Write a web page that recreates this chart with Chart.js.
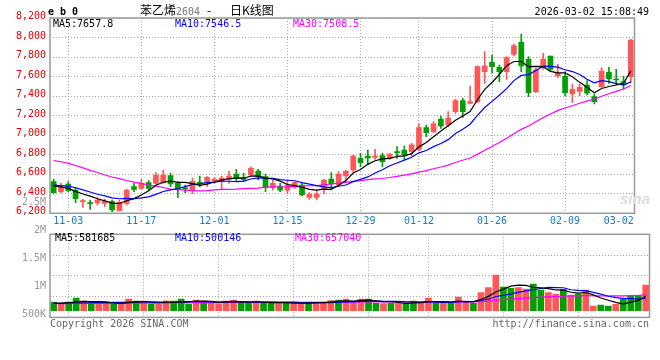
<!DOCTYPE html>
<html>
<head>
<meta charset="utf-8">
<script src="https://cdn.jsdelivr.net/npm/chart.js@4.4.1/dist/chart.umd.min.js"></script>
<style>
  body { margin: 0; background: #fff; }
  #wrap { position: relative; width: 660px; height: 360px; overflow: hidden; background: #fff;
          font-family: 'DejaVu Sans Mono', monospace; font-size: 10px; }
  canvas { position: absolute; left: 0; }
  #priceCanvas { top: 0; }
  #volCanvas { top: 190px; }
  .t { position: absolute; white-space: pre; line-height: 12px; }
  .cjk { font-family: 'Noto Sans CJK SC', sans-serif; font-size: 12px; line-height: 14px; }
</style>
</head>
<body>
<div id="wrap">
  <canvas id="priceCanvas" width="660" height="232"></canvas>
  <canvas id="volCanvas" width="660" height="140"></canvas>

  <div class="t" style="left:48px;top:6px;font-weight:bold;">e b 0</div>
  <div class="t cjk" style="left:140px;top:3px;">苯乙烯<span style="font-family:'DejaVu Sans Mono',monospace;font-size:10px;color:#777;">2604</span></div>
  <div class="t cjk" style="left:207px;top:3px;">-</div>
  <div class="t cjk" style="left:230px;top:3px;">日K线图</div>
  <div class="t" style="right:11px;top:6px;">2026-03-02 15:08:49</div>

  <div class="t" style="left:53px;top:18px;color:#000;">MA5:7657.8</div>
  <div class="t" style="left:175px;top:18px;color:#0000ff;">MA10:7546.5</div>
  <div class="t" style="left:293px;top:18px;color:#ff00ff;">MA30:7508.5</div>

  <div class="t" style="left:55px;top:232px;color:#000;">MA5:581685</div>
  <div class="t" style="left:175px;top:232px;color:#0000ff;">MA10:500146</div>
  <div class="t" style="left:295px;top:232px;color:#ff00ff;">MA30:657040</div>

  <div class="t" style="left:620px;top:191px;font-family:'Liberation Sans',sans-serif;font-size:15px;line-height:16px;font-weight:bold;font-style:italic;color:#dcdcdc;">sina</div>

  <div class="t" style="left:50px;top:318px;color:#666;">Copyright 2026 SINA.COM</div>
  <div class="t" style="right:11px;top:318px;color:#666;">http://finance.sina.com.cn</div>
</div>

<script>
// Data
const dates = [
  '10-30','10-31','11-03','11-04','11-05','11-06','11-07','11-10','11-11','11-12',
  '11-13','11-14','11-17','11-18','11-19','11-20','11-21','11-24','11-25','11-26',
  '11-27','11-28','12-01','12-02','12-03','12-04','12-05','12-08','12-09','12-10',
  '12-11','12-12','12-15','12-16','12-17','12-18','12-19','12-22','12-23','12-24',
  '12-25','12-26','12-29','12-30','12-31','01-05','01-06','01-07','01-08','01-09',
  '01-12','01-13','01-14','01-15','01-16','01-19','01-20','01-21','01-22','01-23',
  '01-26','01-27','01-28','01-29','01-30','02-02','02-03','02-04','02-05','02-06',
  '02-09','02-10','02-11','02-12','02-13','02-24','02-25','02-26','02-27','03-02'
];
const shownDates = ['11-03','11-17','12-01','12-15','12-29','01-12','01-26','02-09','03-02'];

const opens = [
  6524,6421,6500,6438,6319,6309,6309,6302,6319,6227, 6302,6473,6455,6514,6507,6514,6585,6507,6462,6432,
  6520,6520,6531,6527,6548,6602,6565,6592,6633,6575, 6462,6479,6436,6466,6490,6363,6363,6446,6551,6490,
  6582,6643,6763,6787,6773,6790,6763,6831,6848,6831, 6855,7077,7036,7166,7104,7241,7354,7326,7343,7651,
  7746,7695,7651,7828,7951,7777,7446,7692,7811,7606, 7606,7422,7449,7514,7395,7497,7644,7575,7548,7599
];
const closes = [
  6411,6466,6432,6350,6329,6299,6336,6326,6234,6309, 6438,6445,6507,6455,6592,6592,6500,6445,6450,6528,
  6507,6568,6551,6561,6582,6555,6548,6660,6575,6466, 6507,6438,6490,6514,6387,6394,6398,6541,6500,6602,
  6633,6787,6719,6766,6787,6729,6807,6821,6797,6900, 7077,7026,7115,7094,7176,7354,7241,7343,7702,7709,
  7702,7651,7794,7917,7709,7436,7668,7777,7674,7634, 7436,7470,7490,7429,7343,7657,7575,7565,7521,7975
];
const highs = [
  6551,6507,6524,6466,6343,6336,6360,6346,6336,6336, 6445,6507,6548,6534,6616,6643,6612,6524,6490,6560,
  6582,6575,6565,6582,6633,6650,6609,6677,6650,6602, 6541,6507,6541,6524,6507,6411,6439,6548,6616,6626,
  6643,6797,6814,6848,6855,6814,6814,6882,6889,6917, 7115,7104,7138,7196,7241,7367,7377,7504,7709,7855,
  7821,7719,7804,7934,8036,7804,7685,7838,7811,7726, 7651,7524,7524,7558,7422,7692,7695,7674,7606,7982
];
const lows = [
  6404,6411,6421,6309,6261,6241,6285,6268,6217,6224, 6285,6421,6445,6438,6496,6507,6473,6360,6411,6400,
  6473,6473,6507,6445,6507,6524,6524,6582,6541,6421, 6438,6421,6400,6456,6377,6343,6336,6398,6456,6480,
  6524,6626,6677,6705,6753,6677,6753,6763,6753,6787, 6842,6985,7026,7070,7087,7224,7183,7319,7333,7531,
  7634,7548,7572,7811,7651,7395,7436,7674,7651,7589, 7405,7333,7405,7412,7319,7490,7531,7514,7470,7538
];
const ma5 = [
  6480,6470,6455,6425,6397.6,6375.2,6349.2,6328,6304.8,6300.8, 6328.6,6350.4,6386.6,6430.8,6487.4,6518.2,6529.2,6516.8,6515.8,6503,
  6486,6499.6,6520.8,6543,6553.8,6563.4,6559.4,6581.2,6584,6560.8, 6551.2,6529.2,6495.2,6483,6467.2,6444.6,6436.6,6446.8,6444,6487,
  6534.8,6612.6,6648.2,6701.4,6738.4,6757.6,6761.6,6782,6788.2,6810.8, 6880.4,6924.2,6983,7042.4,7097.6,7153,7196,7241.6,7363.2,7469.8,
  7539.4,7621.4,7711.6,7754.6,7754.6,7701.4,7704.8,7701.4,7652.8,7637.8, 7637.8,7598.2,7540.8,7491.8,7433.6,7477.8,7498.8,7513.8,7532.2,7658.6
];
const ma10 = [
  6488,6484,6478,6462,6440,6418,6395,6378,6358,6349.2, 6351.9,6349.8,6357.3,6367.8,6394.1,6423.4,6439.8,6451.7,6473.3,6495.2,
  6502.1,6514.4,6518.8,6529.4,6528.4,6524.7,6529.5,6551,6563.5,6557.3, 6557.3,6544.3,6538.2,6533.5,6514,6497.9,6482.9,6471,6463.5,6477.1,
  6489.7,6524.6,6547.5,6572.7,6612.7,6646.2,6687.1,6715.1,6744.8,6774.6, 6819,6842.9,6882.5,6915.3,6954.2,7016.7,7060.1,7112.3,7202.8,7283.7,
  7346.2,7408.7,7476.6,7558.9,7612.2,7620.4,7663.1,7706.5,7703.7,7696.2, 7669.6,7651.5,7621.1,7572.3,7535.7,7557.8,7548.5,7527.3,7512,7546.1
];
const ma30 = [
  6740,6728,6712,6690,6665,6640,6618,6592,6572,6555, 6536,6520,6506,6490,6478,6464,6448,6442,6438,6432,
  6430,6432,6440,6445,6446,6448,6452,6455,6458,6467.2, 6470.4,6469.5,6471.4,6476.9,6478.8,6482,6484.1,6491.2,6500.1,6509.9,
  6516.4,6527.8,6534.8,6545.2,6551.7,6556.3,6566.5,6579,6590.6,6603, 6622,6637.3,6656.1,6673.8,6693.6,6720.3,6743.4,6766.1,6803.7,6845.1,
  6885,6925.4,6968.9,7015.6,7059.7,7094.4,7136.8,7178,7217.1,7251.5, 7278.3,7301,7326.7,7348.8,7367.4,7398.3,7423.9,7448.7,7472.8,7508.7
];

const volumes = [
  355000,305000,352000,519000,396000,298000,310000,302000,273000,306000, 478000,392000,398000,262000,258000,401000,394000,478000,276000,437000,
  399000,303000,296000,392000,437000,305000,300000,396000,298000,355000, 307000,301000,296000,304000,352000,358000,350000,410000,437000,478000,
  299000,478000,474000,303000,297000,306000,301000,295000,396000,355000, 519000,305000,298000,302000,560000,396000,301000,738000,943000,1462000,
  970000,916000,943000,888000,1093000,847000,738000,683000,875000,642000, 683000,847000,191000,232000,191000,260000,465000,601000,601000,1052000
];
const volMa5 = [
  296000,314000,327000,362000,385400,374000,375000,365000,315800,297800, 333800,350200,369400,367200,357600,342200,342600,358600,361400,397200,
  396800,378600,342200,365400,365400,346600,346000,366000,347200,330800, 331200,331400,311400,312600,312000,322200,332000,354800,381400,406600,
  394800,420400,433200,406400,370200,371600,336200,300400,319000,330600, 373200,374000,374600,355800,396800,372200,371400,459400,587600,768000,
  882800,1005800,1046800,1035800,962000,937400,901800,849800,847200,757000, 724200,746000,647600,519000,428800,344200,267800,349800,423600,595800
];
const volMa10 = [
  312000,306000,318000,322000,315000,327000,333000,329000,338000,341600, 353900,362600,367200,341500,327700,338000,346400,364000,364300,377400,
  369500,360600,350400,363400,381300,371700,362300,354100,356300,348100, 338900,338700,338700,329900,321400,326700,331700,333100,347000,359300,
  358500,376200,394000,393900,388400,383200,378300,366800,362700,350400, 372400,355100,337500,337400,363700,372700,372700,417000,471700,582400,
  627500,688600,753100,811700,865000,910100,953800,948300,941500,859500, 830800,823900,748700,683100,592900,534200,506900,498700,471300,512300
];
const volMa30 = [
  288000,290000,291000,295000,297000,297000,299000,300000,302000,303000, 306000,309000,311000,312000,314000,318000,321000,324000,326000,330000,
  333000,335000,337000,340000,343000,346000,349000,352000,354000,355700, 354100,354000,352100,344900,343500,345500,346800,350400,355900,361600,
  355600,358500,361000,362400,363700,360500,357400,351300,355300,352600, 356600,356700,356700,353700,357800,360900,360900,372300,393800,430700,
  452800,473300,494900,514300,539000,555300,568300,577400,592000,597400, 610200,622500,613100,610700,607200,605700,611100,621300,628200,651400
];

// Axis settings
const priceMin = 6200, priceMax = 8200, priceStep = 200;
const volMin = -274700, volMax = 3132400;            // value range of the volume panel
const volTickVals = [500000, 1000000, 1500000, 2000000, 2500000];
const volTickLabels = ['500K', '1M', '1.5M', '2M', '2.5M'];
const volLabelMin = 446600, volLabelMax = 1925300;  // label axis as drawn by the source page

// Colors
const UP = '#ff5757';
const DOWN = '#00a000';
const GRID = '#aaaaaa';
const candleColors = closes.map((c, i) => c >= opens[i] ? UP : DOWN);

Chart.defaults.font.family = "'DejaVu Sans Mono', monospace";
Chart.defaults.font.size = 10;
Chart.defaults.animation = false;

const framePlugin = {
  id: 'frame',
  afterDraw(chart) {
    const a = chart.chartArea;
    const ctx = chart.ctx;
    ctx.save();
    ctx.strokeStyle = '#999';
    ctx.lineWidth = 1.5;
    ctx.strokeRect(a.left, a.top, a.right - a.left, a.bottom - a.top);
    ctx.restore();
  }
};

function keepDateTicks(scale) {
  scale.ticks = scale.ticks.filter(t => shownDates.includes(dates[t.value]));
}
function dateGridColor(ctx) {
  return ctx.tick && ctx.tick.value === dates.length - 1 ? 'rgba(0,0,0,0)' : GRID;
}
function maLine(data, color, width) {
  return {
    type: 'line', data, borderColor: color, borderWidth: width,
    pointRadius: 0, tension: 0, fill: false, order: 0
  };
}

// Price chart
new Chart(document.getElementById('priceCanvas'), {
  type: 'bar',
  data: {
    labels: dates,
    datasets: [
      maLine(ma5, '#000000', 1.2),
      maLine(ma10, '#0000ff', 1.2),
      maLine(ma30, '#ff00ff', 1.2),
      {
        label: 'body',
        data: opens.map((o, i) => [o, closes[i]]),
        backgroundColor: candleColors,
        barThickness: 5,
        minBarLength: 1,
        grouped: false,
        order: 1
      },
      {
        label: 'wick',
        data: lows.map((l, i) => [l, highs[i]]),
        backgroundColor: candleColors,
        barThickness: 1,
        grouped: false,
        order: 2
      }
    ]
  },
  options: {
    responsive: false,
    events: [],
    layout: { padding: { top: 18, right: 10.5, bottom: 0, left: 0 } },
    plugins: { legend: { display: false }, tooltip: { enabled: false } },
    scales: {
      x: {
        grid: { offset: false, drawTicks: false, color: dateGridColor, lineWidth: 1 },
        border: { display: false, dash: [1, 2] },
        ticks: {
          autoSkip: false, maxRotation: 0, padding: 2, color: '#0a7fd8',
          callback: (v) => v === dates.length - 1 ? dates[v] + '    ' : dates[v]
        },
        afterBuildTicks: keepDateTicks,
        afterFit: (s) => { s.height = 18.7; }
      },
      y: {
        min: priceMin, max: priceMax,
        grid: { drawTicks: false, color: GRID, lineWidth: 1 },
        border: { display: false, dash: [1, 2] },
        ticks: { stepSize: priceStep, padding: 4, color: '#e00000', labelOffset: -1.5 },
        afterFit: (s) => { s.width = 50; }
      }
    }
  },
  plugins: [framePlugin]
});

// Volume chart
new Chart(document.getElementById('volCanvas'), {
  type: 'bar',
  data: {
    labels: dates,
    datasets: [
      maLine(volMa5, '#000000', 1.2),
      maLine(volMa10, '#0000ff', 1.2),
      maLine(volMa30, '#ff00ff', 1.2),
      {
        label: 'volume',
        data: volumes,
        backgroundColor: candleColors,
        barThickness: 6,
        order: 1
      }
    ]
  },
  options: {
    responsive: false,
    events: [],
    layout: { padding: { top: 44.3, right: 10.5, bottom: 12.6, left: 0 } },
    plugins: { legend: { display: false }, tooltip: { enabled: false } },
    scales: {
      x: {
        grid: { offset: false, drawTicks: false, color: dateGridColor, lineWidth: 1 },
        border: { display: false, dash: [1, 2] },
        ticks: { display: false, autoSkip: false },
        afterBuildTicks: keepDateTicks,
        afterFit: (s) => { s.height = 0; }
      },
      y: {
        position: 'left',
        min: volMin, max: volMax,
        grid: { drawTicks: false, color: GRID, lineWidth: 1 },
        border: { display: false, dash: [1, 2] },
        ticks: { display: false },
        afterBuildTicks: (s) => {
          const step = (s.max - s.min) / 4;
          s.ticks = [0, 1, 2, 3, 4].map(k => ({ value: s.min + k * step }));
        },
        afterFit: (s) => { s.width = 0; }
      },
      yl: {
        position: 'left',
        min: volLabelMin, max: volLabelMax,
        grid: { display: false, drawTicks: false },
        border: { display: false },
        ticks: {
          autoSkip: false, padding: 4, color: '#999999',
          callback: (v, i) => volTickLabels[i]
        },
        afterBuildTicks: (s) => { s.ticks = volTickVals.map(v => ({ value: v })); },
        afterFit: (s) => { s.width = 50; }
      }
    }
  },
  plugins: [framePlugin]
});
</script>
</body>
</html>
